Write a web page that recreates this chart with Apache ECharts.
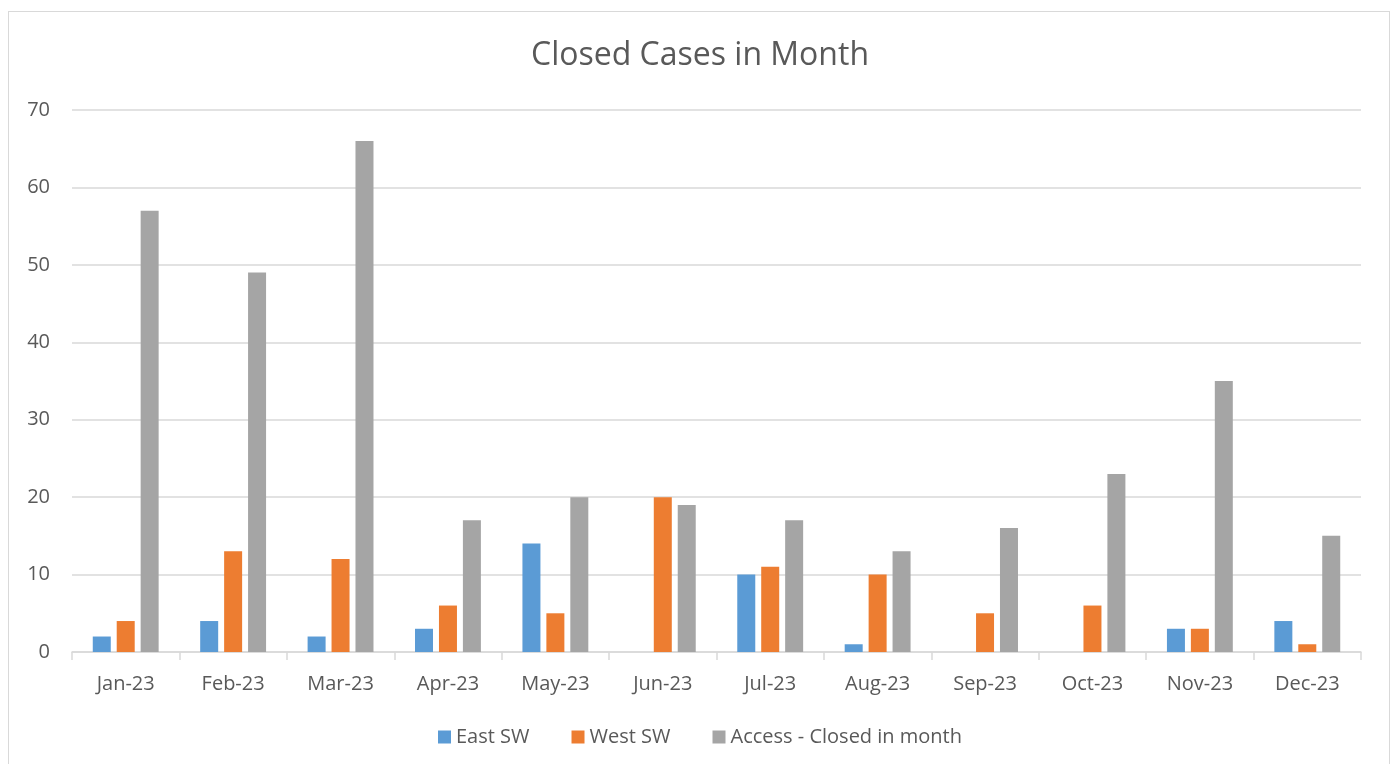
<!DOCTYPE html>
<html>
<head>
<meta charset="utf-8">
<script src="https://cdn.jsdelivr.net/npm/echarts@6/dist/echarts.min.js"></script>
<style>
  html, body { margin: 0; padding: 0; background: #fff; }
  #frame {
    position: absolute; left: 8px; top: 11px; width: 1382px; height: 770px;
    border: 1px solid #d9d9d9; box-sizing: border-box;
  }
  #chart { position: absolute; left: 0; top: 0; width: 1400px; height: 764px; }
</style>
</head>
<body>
<div id="frame"></div>
<div id="chart"></div>
<script>
const months = ['Jan-23', 'Feb-23', 'Mar-23', 'Apr-23', 'May-23', 'Jun-23',
  'Jul-23', 'Aug-23', 'Sep-23', 'Oct-23', 'Nov-23', 'Dec-23']
const eastSW = [2, 4, 2, 3, 14, 0, 10, 1, 0, 0, 3, 4]
const westSW = [4, 13, 12, 6, 5, 20, 11, 10, 5, 6, 3, 1]
const accessClosed = [57, 49, 66, 17, 20, 19, 17, 13, 16, 23, 35, 15]

const font = '"Open Sans", "Noto Sans", sans-serif'
const textColor = '#595959'

const chart = echarts.init(document.getElementById('chart'))

const bar = (name, data, color) => ({
  name,
  type: 'bar',
  data,
  barWidth: 18,
  barGap: '33%',
  itemStyle: { color },
  emphasis: { disabled: true }
})

chart.setOption({
  animation: false,
  textStyle: { fontFamily: font },
  title: {
    text: 'Closed Cases in Month',
    left: 'center',
    top: 35,
    textStyle: { fontSize: 32, fontWeight: 'normal', color: textColor, fontFamily: font }
  },
  legend: {
    bottom: 12,
    left: 'center',
    itemWidth: 13,
    itemHeight: 13,
    itemGap: 42,
    icon: 'rect',
    textStyle: { fontSize: 20, color: textColor, fontFamily: font }
  },
  grid: { left: 72, right: 39, top: 110, bottom: 112 },
  xAxis: {
    type: 'category',
    data: months,
    axisLine: { lineStyle: { color: '#d9d9d9', width: 1.5 } },
    axisTick: { show: true, length: 8, lineStyle: { color: '#d9d9d9', width: 1.5 } },
    axisLabel: { fontSize: 20, color: textColor, margin: 22, fontFamily: font }
  },
  yAxis: {
    type: 'value',
    min: 0,
    max: 70,
    interval: 10,
    axisLine: { show: false },
    axisTick: { show: false },
    axisLabel: { fontSize: 20, color: textColor, margin: 22, fontFamily: font },
    splitLine: { lineStyle: { color: '#d9d9d9', width: 1.5 } }
  },
  series: [
    bar('East SW', eastSW, '#5b9bd5'),
    bar('West SW', westSW, '#ed7d31'),
    bar('Access - Closed in month', accessClosed, '#a5a5a5')
  ]
})
</script>
</body>
</html>
